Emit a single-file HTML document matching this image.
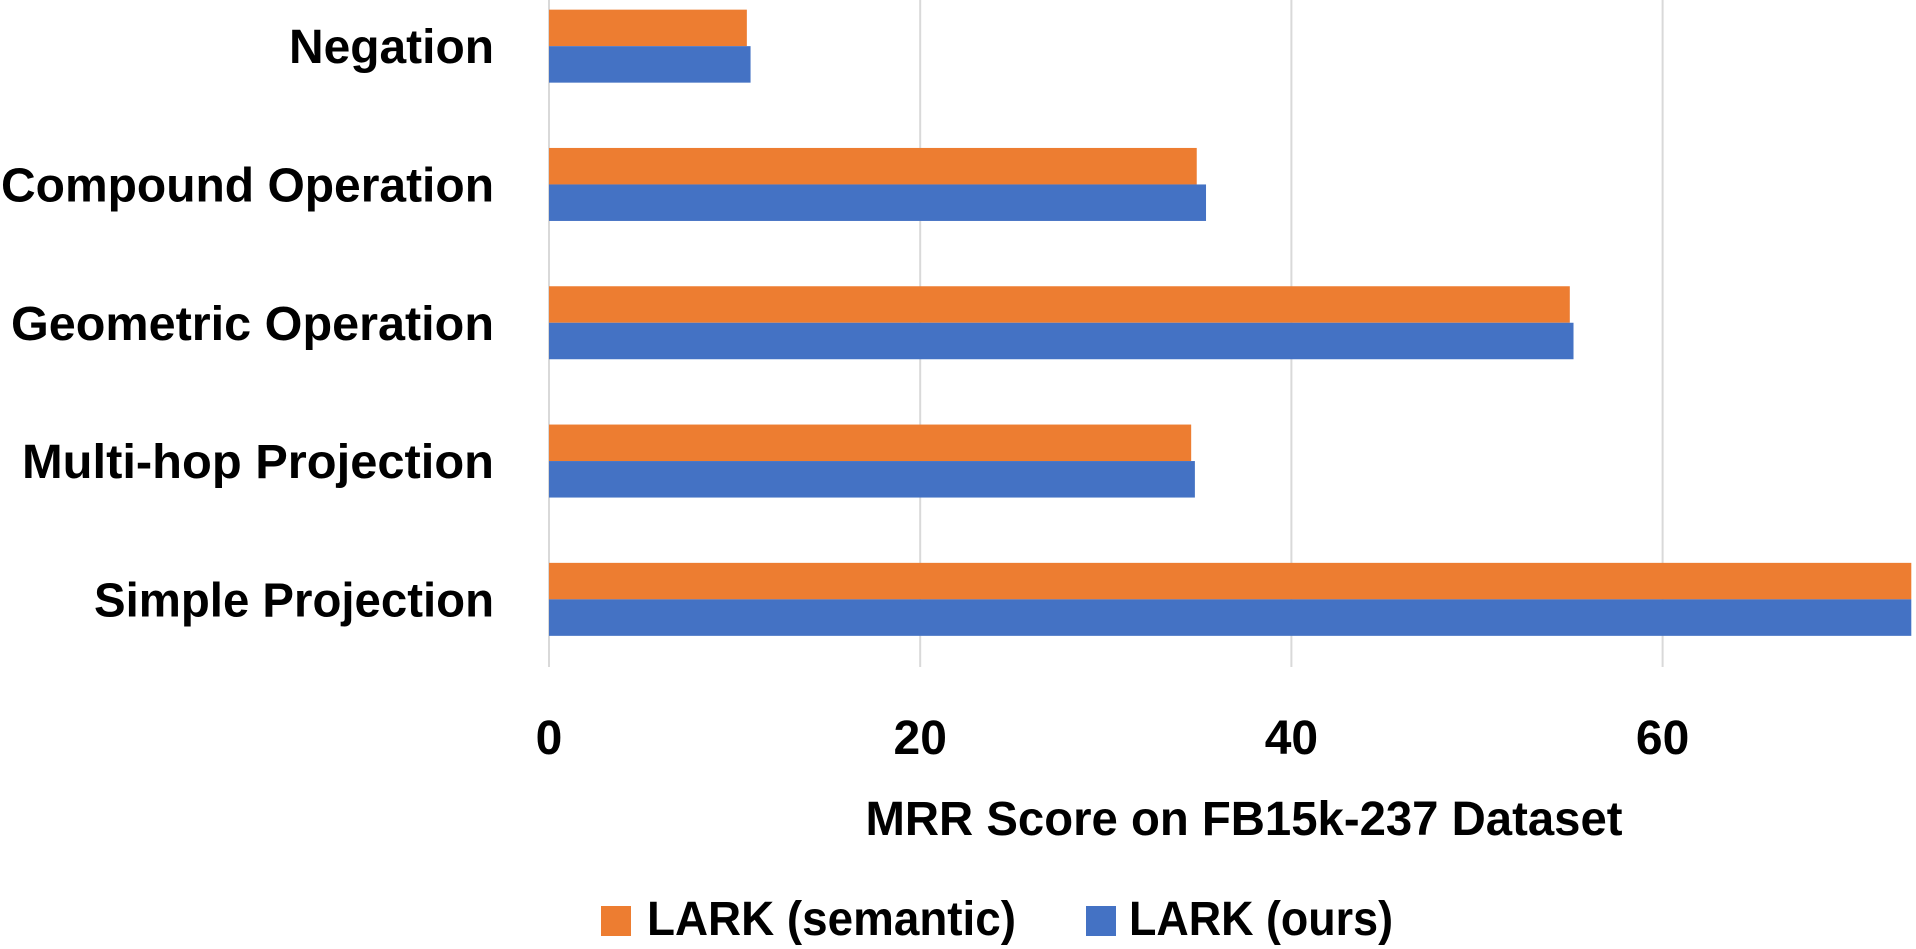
<!DOCTYPE html>
<html><head><meta charset="utf-8"><style>
html,body{margin:0;padding:0;background:#fff;}
svg{display:block;font-family:"Liberation Sans",Arial,sans-serif;font-weight:bold;}
</style></head><body>
<svg id="chart" width="1916" height="949" viewBox="0 0 1916 949">
<g id="grid"></g>
<g id="bars"></g>
<g id="ylabels"></g>
<g id="xlabels"></g>
<text x="1244" y="835" font-size="48" text-anchor="middle" textLength="757" lengthAdjust="spacingAndGlyphs" fill="#000">MRR Score on FB15k-237 Dataset</text>
<g>
<g>
<rect x="601" y="906" width="30" height="30" fill="#ED7D31"/>
<text x="647" y="935" font-size="48" textLength="369" lengthAdjust="spacingAndGlyphs" fill="#000">LARK (semantic)</text></g>
<g>
<rect x="1086" y="906" width="30" height="30" fill="#4472C4"/>
<text x="1129" y="935" font-size="48" textLength="264" lengthAdjust="spacingAndGlyphs" fill="#000">LARK (ours)</text></g>
</g>
</svg>
<script>
const categories=["Negation","Compound Operation","Geometric Operation","Multi-hop Projection","Simple Projection"];
const semantic=[10.66,34.9,55.0,34.6,73.4];
const ours=[10.86,35.4,55.2,34.8,73.4];
const ticks=[0,20,40,60];
const labelWidths=[205,493,483,472,400];
const NS="http://www.w3.org/2000/svg";
const x0=549,scale=18.56,plotTop=-23,band=138.3,barH=36.5,plotBottom=667;
const xs=v=>x0+v*scale;
const yc=i=>plotTop+band*(i+0.5);
function mk(tag,attrs,parent){const e=document.createElementNS(NS,tag);for(const k in attrs)e.setAttribute(k,attrs[k]);document.getElementById(parent).appendChild(e);return e;}
ticks.forEach((t,i)=>{
 const l=mk("line",{x1:xs(t),x2:xs(t),y1:0,y2:plotBottom,stroke:"#d9d9d9","stroke-width":2},"grid");
 
 
 const tx=mk("text",{x:xs(t),y:754,"font-size":48,"text-anchor":"middle",fill:"#000"},"xlabels");
 tx.textContent=t;
 
 
});
categories.forEach((c,i)=>{
 const y=yc(i);
 const b1=mk("rect",{x:x0,y:y-barH,width:xs(semantic[i])-x0,height:barH,fill:"#ED7D31"},"bars");
 
 
 const b2=mk("rect",{x:x0,y:y,width:xs(ours[i])-x0,height:barH,fill:"#4472C4"},"bars");
 
 
 const t=mk("text",{x:494,y:y+17,"font-size":48,"text-anchor":"end",fill:"#000",textLength:labelWidths[i],lengthAdjust:"spacingAndGlyphs"},"ylabels");
 t.textContent=c;
 
 
});
</script>
</body></html>
